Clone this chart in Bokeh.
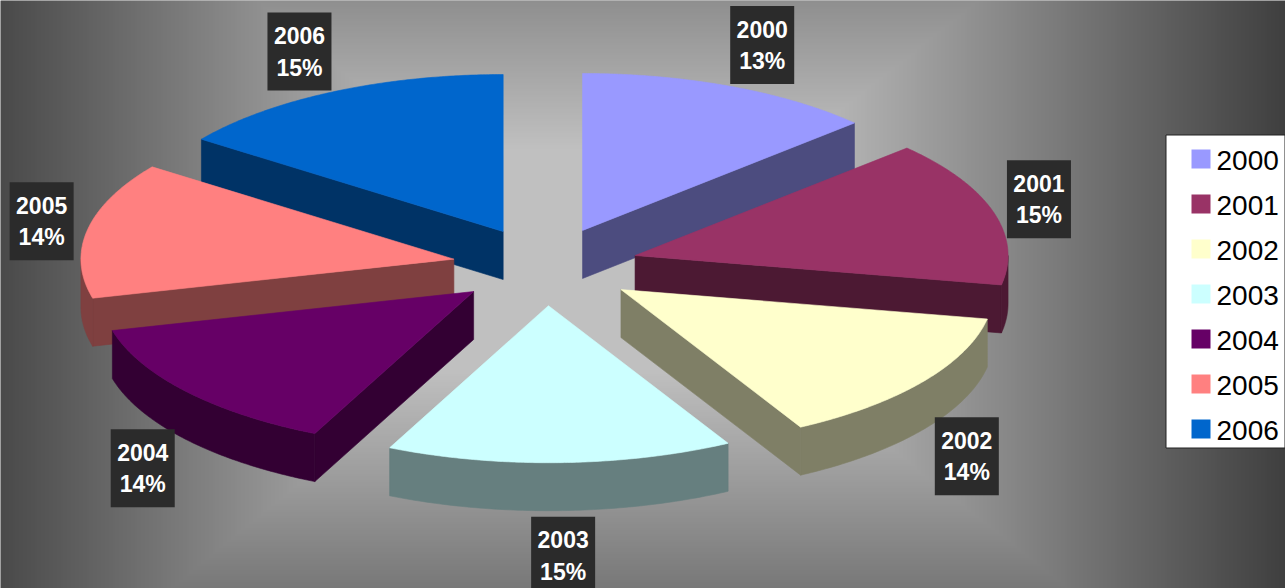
import numpy as np
from bokeh.plotting import figure
from bokeh.models import Range1d
from bokeh.embed import file_html
from bokeh.resources import INLINE
from bokeh.core.properties import value

# ---------------- data ----------------
years = ["2000", "2001", "2002", "2003", "2004", "2005", "2006"]
shares = [13, 15, 14, 15, 14, 14, 15]
pct_labels = ["13%", "15%", "14%", "15%", "14%", "14%", "15%"]
colors = ["#9999FF", "#993366", "#FFFFCC", "#CCFFFF", "#660066", "#FF8080", "#0066CC"]

# ---------------- layout / style ----------------
W, H = 1285, 588
CX, CY = 545.0, 266.0      # pie centre (px)
RX, RY = 373.0, 157.0      # projected radii
DEPTH = 48.0               # pie thickness
EXPLODE = 0.25             # explosion (fraction of radius)
FONT = value("Liberation Sans")


def shade(hexcol, f=0.5):
    h = hexcol.lstrip("#")
    r, g, b = (int(h[k:k + 2], 16) for k in (0, 2, 4))
    return "#%02x%02x%02x" % (int(r * f), int(g * f), int(b * f))


p = figure(width=W, height=H, x_range=Range1d(0, W), y_range=Range1d(H, 0),
           output_backend="svg", toolbar_location=None, min_border=0)
p.axis.visible = False
p.grid.visible = False
p.outline_line_color = None
p.background_fill_color = "#808080"
p.border_fill_color = "#808080"

# ---------------- background: centred rectangular gradient ----------------
step = 2
gy, gx = np.mgrid[0:H:step, 0:W:step].astype(float)
gx += step / 2
gy += step / 2
dist = np.maximum.reduce([
    0.27 * np.clip(437 - gx, 0, None),
    0.26 * np.clip(gx - 792, 0, None),
    0.33 * np.clip(148 - gy, 0, None),
    0.33 * np.clip(gy - 370, 0, None),
])
v = np.clip(192 - dist, 0, 255).astype(np.uint8)
img = np.empty(v.shape, dtype=np.uint32)
view = img.view(dtype=np.uint8).reshape(v.shape + (4,))
view[..., 0] = v
view[..., 1] = v
view[..., 2] = v
view[..., 3] = 255
p.image_rgba(image=[img], x=0, y=0, dw=W, dh=H)

# ---------------- 3D exploded pie ----------------
total = float(sum(shares))
cum = np.concatenate([[0.0], np.cumsum(shares)])


def pt(theta_deg, ox, oy, r=1.0, dz=0.0):
    t = np.radians(theta_deg)
    return CX + ox + r * RX * np.cos(t), CY + oy - r * RY * np.sin(t) + dz


slices = []
for i in range(len(shares)):
    a0 = 90.0 - 360.0 * cum[i] / total
    a1 = 90.0 - 360.0 * cum[i + 1] / total
    mid = 0.5 * (a0 + a1)
    ox = EXPLODE * RX * np.cos(np.radians(mid))
    oy = -EXPLODE * RY * np.sin(np.radians(mid))
    slices.append((i, a0, a1, mid, ox, oy))

order = sorted(slices, key=lambda s: CY + s[5])

pxs, pys, pcol = [], [], []
for (i, a0, a1, mid, ox, oy) in order:
    top = colors[i]
    side = shade(top)
    ax, ay = CX + ox, CY + oy
    # radial walls
    if np.cos(np.radians(a0)) < 0:
        ex, ey = pt(a0, ox, oy)
        pxs.append([ax, ex, ex, ax]); pys.append([ay, ey, ey + DEPTH, ay + DEPTH]); pcol.append(side)
    if np.cos(np.radians(a1)) > 0:
        ex, ey = pt(a1, ox, oy)
        pxs.append([ax, ex, ex, ax]); pys.append([ay, ey, ey + DEPTH, ay + DEPTH]); pcol.append(side)
    # outer curved wall (front half only)
    lo, hi = max(a1, -180.0), min(a0, 0.0)
    if hi > lo:
        th = np.linspace(hi, lo, 80)
        x1, y1 = pt(th, ox, oy)
        x2, y2 = pt(th[::-1], ox, oy, dz=DEPTH)
        pxs.append(list(x1) + list(x2)); pys.append(list(y1) + list(y2)); pcol.append(side)
    # top face
    th = np.linspace(a0, a1, 120)
    x1, y1 = pt(th, ox, oy)
    pxs.append([ax] + list(x1)); pys.append([ay] + list(y1)); pcol.append(top)

p.patches(pxs, pys, fill_color=pcol, line_color=pcol, line_width=0.6)

# ---------------- data labels ----------------
lx, ly = [], []
for (i, a0, a1, mid, ox, oy) in slices:
    c, s = np.cos(np.radians(mid)), np.sin(np.radians(mid))
    x0 = CX + (1 + EXPLODE) * RX * c
    y0 = CY - (1 + EXPLODE) * RY * s + (DEPTH if s < 0 else 0.0)
    lx.append(x0 + 46 * np.tanh(2 * c) / np.tanh(2))
    ly.append(y0 - 45 * s)

p.rect(x=lx, y=ly, width=64, height=78, fill_color="#2b2b2b", line_color=None)
p.text(x=lx, y=[y - 16 for y in ly], text=years, text_color="white", text_font=FONT,
       text_font_style="bold", text_font_size="23px", text_align="center", text_baseline="middle")
p.text(x=lx, y=[y + 16 for y in ly], text=pct_labels, text_color="white", text_font=FONT,
       text_font_style="bold", text_font_size="23px", text_align="center", text_baseline="middle")

# ---------------- legend ----------------
LEG_L, LEG_R, LEG_T, LEG_B = 1165.5, 1284.5, 134.5, 447.5
p.quad(left=LEG_L, right=LEG_R, top=LEG_T, bottom=LEG_B, fill_color="white",
       line_color="#222222", line_width=1)
ly_leg = [158.5 + 45 * k for k in range(len(years))]
p.rect(x=[1200.5] * len(years), y=ly_leg, width=19, height=19, fill_color=colors, line_color=None)
p.text(x=[1216] * len(years), y=[y + 1 for y in ly_leg], text=years, text_color="black",
       text_font=FONT, text_font_size="28px", text_align="left", text_baseline="middle")

open("out.html", "w").write(file_html(p, INLINE))
